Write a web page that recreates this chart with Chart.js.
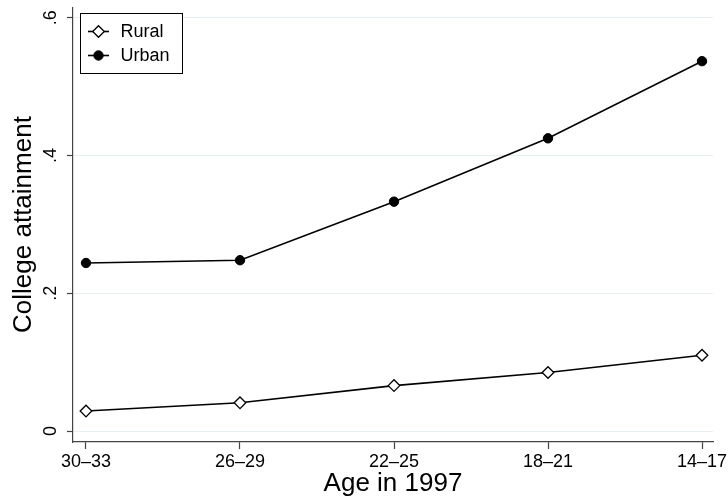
<!DOCTYPE html>
<html>
<head>
<meta charset="utf-8">
<script src="https://cdn.jsdelivr.net/npm/chart.js@4/dist/chart.umd.min.js"></script>
<style>
  html, body { margin: 0; padding: 0; background: #fff; }
  #wrap { width: 728px; height: 502px; }
</style>
</head>
<body>
<div id="wrap"><canvas id="c" width="728" height="502"></canvas></div>
<script>
// College attainment by age cohort, rural vs urban
const ageGroups = ["30–33", "26–29", "22–25", "18–21", "14–17"];
const rural = [0.029, 0.041, 0.066, 0.085, 0.110];
const urban = [0.244, 0.248, 0.333, 0.425, 0.537];
const seriesNames = ["Rural", "Urban"];
const yTickValues = [0, 0.2, 0.4, 0.6];
const yTickLabels = ["0", ".2", ".4", ".6"];

const FONT = "'Liberation Sans', Arial, Helvetica, sans-serif";
const AXIS_COLOR = "#444";
const GRID_COLOR = "#e6eef1";

const toPoints = (vals) => vals.map((v, i) => ({ x: i, y: v }));

// Boxed legend in the upper-left corner of the plot region
const boxedLegend = {
  id: "boxedLegend",
  afterDraw(chart) {
    const { ctx, chartArea } = chart;
    const x0 = Math.round(chartArea.left + 7) + 0.5;
    const y0 = Math.round(chartArea.top + 6) + 0.5;
    const w = 102, h = 60;
    ctx.save();
    ctx.fillStyle = "#fff";
    ctx.fillRect(x0, y0, w, h);
    ctx.strokeStyle = "#000";
    ctx.lineWidth = 1;
    ctx.strokeRect(x0, y0, w, h);
    chart.data.datasets.forEach((ds, i) => {
      const cy = y0 + 18 + i * 24;
      const sx = x0 + 7.5, ex = x0 + 28.5, mx = (sx + ex) / 2;
      ctx.strokeStyle = ds.borderColor;
      ctx.lineWidth = ds.borderWidth;
      ctx.beginPath();
      ctx.moveTo(sx, cy);
      ctx.lineTo(ex, cy);
      ctx.stroke();
      ctx.beginPath();
      const r = ds.pointRadius;
      if (ds.pointStyle === "rectRot") {
        ctx.moveTo(mx - r, cy);
        ctx.lineTo(mx, cy - r);
        ctx.lineTo(mx + r, cy);
        ctx.lineTo(mx, cy + r);
        ctx.closePath();
      } else {
        ctx.arc(mx, cy, r, 0, Math.PI * 2);
      }
      ctx.fillStyle = ds.pointBackgroundColor;
      ctx.fill();
      ctx.lineWidth = ds.pointBorderWidth;
      ctx.strokeStyle = ds.pointBorderColor;
      ctx.stroke();
      ctx.fillStyle = "#000";
      ctx.font = "18px " + FONT;
      ctx.textBaseline = "middle";
      ctx.textAlign = "left";
      ctx.fillText(ds.label, x0 + 40, cy + 0.5);
    });
    ctx.restore();
  }
};

new Chart(document.getElementById("c"), {
  type: "line",
  data: {
    datasets: [
      {
        label: seriesNames[0],
        data: toPoints(rural),
        borderColor: "#000",
        borderWidth: 1.6,
        pointStyle: "rectRot",
        pointRadius: 5.8,
        pointBackgroundColor: "#fff",
        pointBorderColor: "#000",
        pointBorderWidth: 1.3,
        tension: 0
      },
      {
        label: seriesNames[1],
        data: toPoints(urban),
        borderColor: "#000",
        borderWidth: 1.6,
        pointStyle: "circle",
        pointRadius: 4.7,
        pointBackgroundColor: "#000",
        pointBorderColor: "#000",
        pointBorderWidth: 1,
        tension: 0
      }
    ]
  },
  options: {
    responsive: false,
    animation: false,
    devicePixelRatio: 1,
    layout: { padding: { top: 5, right: 15, left: 0, bottom: 0 } },
    plugins: {
      legend: { display: false },
      tooltip: { enabled: false }
    },
    scales: {
      x: {
        type: "linear",
        min: -0.0844,
        max: 4.0714,
        bounds: "data",
        afterBuildTicks(scale) {
          scale.ticks = ageGroups.map((_, i) => ({ value: i }));
        },
        afterFit(scale) {
          scale.height = 60;
          scale.paddingLeft = 0;
          scale.paddingRight = 0;
        },
        ticks: {
          autoSkip: false,
          maxRotation: 0,
          minRotation: 0,
          padding: 2,
          color: "#000",
          font: { family: FONT, size: 18 },
          callback: (v) => ageGroups[v]
        },
        grid: {
          drawOnChartArea: false,
          drawTicks: true,
          tickLength: 7,
          tickColor: AXIS_COLOR,
          tickWidth: 1.2
        },
        border: { display: true, color: AXIS_COLOR, width: 1.2 },
        title: {
          display: true,
          text: "Age in 1997",
          color: "#000",
          font: { family: FONT, size: 26 },
          padding: { top: 0, bottom: 3 }
        }
      },
      y: {
        type: "linear",
        min: -0.0159,
        max: 0.6155,
        bounds: "data",
        afterBuildTicks(scale) {
          scale.ticks = yTickValues.map((v) => ({ value: v }));
        },
        afterFit(scale) {
          scale.width = 73;
          scale.paddingTop = 0;
          scale.paddingBottom = 0;
        },
        ticks: {
          autoSkip: false,
          minRotation: 90,
          maxRotation: 90,
          crossAlign: "center",
          padding: 8,
          color: "#000",
          font: { family: FONT, size: 18 },
          callback: (v, i) => yTickLabels[i]
        },
        grid: {
          color: GRID_COLOR,
          lineWidth: 1,
          drawTicks: true,
          tickLength: 6,
          tickColor: AXIS_COLOR,
          tickWidth: 1.2
        },
        border: { display: true, color: AXIS_COLOR, width: 1.2 },
        title: {
          display: true,
          text: "College attainment",
          color: "#000",
          font: { family: FONT, size: 26 },
          padding: { top: 8, bottom: 0 }
        }
      }
    }
  },
  plugins: [boxedLegend]
});
</script>
</body>
</html>
